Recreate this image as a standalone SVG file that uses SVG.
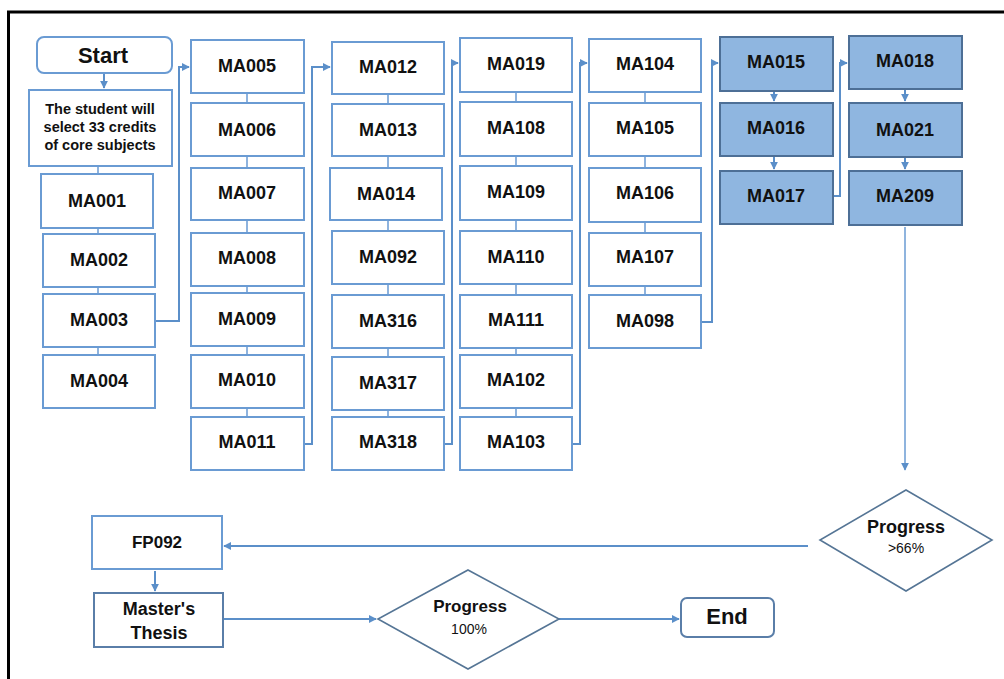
<svg xmlns="http://www.w3.org/2000/svg" width="1004" height="679" viewBox="0 0 1004 679">
<defs>
<marker id="ahs" viewBox="0 0 10 10" refX="9" refY="5" markerWidth="8" markerHeight="8" orient="auto" markerUnits="userSpaceOnUse">
<path d="M0,0 L10,5 L0,10 z" fill="#5b8fc9"/>
</marker>
</defs>
<style>
.b{fill:#fff;stroke:#6a9bd3;stroke-width:2}
.f{fill:#8fb6e0;stroke:#4d6f96;stroke-width:2}
.d{fill:#fff;stroke:#557595;stroke-width:1.6}
.t{font-family:"Liberation Sans",Arial,sans-serif;font-weight:bold;font-size:18px;fill:#111;text-anchor:middle}
.s{font-family:"Liberation Sans",Arial,sans-serif;font-size:14px;fill:#111;text-anchor:middle}
.c{fill:none;stroke:#5b8fc9;stroke-width:2}
.l{fill:none;stroke:#6a9bd3;stroke-width:1.5}
</style>
<rect x="0" y="0" width="1004" height="679" fill="#fff"/>
<path d="M8.5,679 V12 H1004" fill="none" stroke="#000" stroke-width="3"/>

<g id="connectors">
<path class="c" d="M104,73 V88" marker-end="url(#ahs)"/>
<path class="l" d="M98,166 V174 M98,228 V234 M98,287 V294 M98,347 V355"/>
<path class="c" d="M155,321 H179 V67 H189" marker-end="url(#ahs)"/>
<path class="l" d="M247,93 V103 M247,156 V168 M247,220 V233 M247,286 V293 M247,346 V355 M247,408 V417"/>
<path class="c" d="M304,444 H312 V67 H330" marker-end="url(#ahs)"/>
<path class="l" d="M388,94 V104 M388,156 V168 M388,220 V231 M388,284 V295 M388,348 V357 M388,410 V417"/>
<path class="c" d="M444,444 H452 V63 H458" marker-end="url(#ahs)"/>
<path class="l" d="M516,92 V102 M516,156 V166 M516,220 V231 M516,284 V295 M516,348 V355 M516,408 V417"/>
<path class="c" d="M572,444 H580 V63 H587" marker-end="url(#ahs)"/>
<path class="l" d="M645,92 V103 M645,156 V168 M645,222 V233 M645,286 V295"/>
<path class="c" d="M701,322 H712 V63 H718" marker-end="url(#ahs)"/>
<path class="c" d="M774,91 V101" marker-end="url(#ahs)"/>
<path class="c" d="M774,156 V169" marker-end="url(#ahs)"/>
<path class="c" d="M833,196 H840 V63 H847" marker-end="url(#ahs)"/>
<path class="c" d="M905,89 V101" marker-end="url(#ahs)"/>
<path class="c" d="M905,157 V169" marker-end="url(#ahs)"/>
<path class="l" d="M905,227 V470" marker-end="url(#ahs)"/>
<path class="c" d="M808,546 H224" marker-end="url(#ahs)"/>
<path class="c" d="M155,571 V591" marker-end="url(#ahs)"/>
<path class="c" d="M223,619 H376" marker-end="url(#ahs)"/>
<path class="c" d="M559,619 H679" marker-end="url(#ahs)"/>
</g>

<g id="start"><rect class="b" x="37" y="37" width="135" height="36" rx="7"/><text class="t" x="103" y="63" style="font-size:22px">Start</text></g>
<g id="intro"><rect class="b" x="29" y="90" width="143" height="76"/>
<text class="t" x="100" y="114" style="font-size:14.5px">The student will</text>
<text class="t" x="100" y="132" style="font-size:14.5px">select 33 credits</text>
<text class="t" x="100" y="150" style="font-size:14.5px">of core subjects</text></g>
<g id="MA001"><rect class="b" x="41" y="174" width="112" height="54"/><text class="t" x="97" y="207">MA001</text></g>
<g id="MA002"><rect class="b" x="43" y="234" width="112" height="53"/><text class="t" x="99" y="266">MA002</text></g>
<g id="MA003"><rect class="b" x="43" y="294" width="112" height="53"/><text class="t" x="99" y="326">MA003</text></g>
<g id="MA004"><rect class="b" x="43" y="355" width="112" height="53"/><text class="t" x="99" y="387">MA004</text></g>

<g id="MA005"><rect class="b" x="191" y="40" width="113" height="53"/><text class="t" x="247" y="72">MA005</text></g>
<g id="MA006"><rect class="b" x="191" y="103" width="113" height="53"/><text class="t" x="247" y="136">MA006</text></g>
<g id="MA007"><rect class="b" x="191" y="168" width="113" height="52"/><text class="t" x="247" y="199">MA007</text></g>
<g id="MA008"><rect class="b" x="191" y="233" width="113" height="53"/><text class="t" x="247" y="264">MA008</text></g>
<g id="MA009"><rect class="b" x="191" y="293" width="113" height="53"/><text class="t" x="247" y="325">MA009</text></g>
<g id="MA010"><rect class="b" x="191" y="355" width="113" height="53"/><text class="t" x="247" y="386">MA010</text></g>
<g id="MA011"><rect class="b" x="191" y="417" width="113" height="53"/><text class="t" x="247" y="448">MA011</text></g>

<g id="MA012"><rect class="b" x="332" y="42" width="112" height="52"/><text class="t" x="388" y="73">MA012</text></g>
<g id="MA013"><rect class="b" x="332" y="104" width="112" height="52"/><text class="t" x="388" y="136">MA013</text></g>
<g id="MA014"><rect class="b" x="330" y="168" width="112" height="52"/><text class="t" x="386" y="200">MA014</text></g>
<g id="MA092"><rect class="b" x="332" y="231" width="112" height="53"/><text class="t" x="388" y="263">MA092</text></g>
<g id="MA316"><rect class="b" x="332" y="295" width="112" height="53"/><text class="t" x="388" y="327">MA316</text></g>
<g id="MA317"><rect class="b" x="332" y="357" width="112" height="53"/><text class="t" x="388" y="389">MA317</text></g>
<g id="MA318"><rect class="b" x="332" y="417" width="112" height="53"/><text class="t" x="388" y="448">MA318</text></g>

<g id="MA019"><rect class="b" x="460" y="38" width="112" height="54"/><text class="t" x="516" y="70">MA019</text></g>
<g id="MA108"><rect class="b" x="460" y="102" width="112" height="54"/><text class="t" x="516" y="134">MA108</text></g>
<g id="MA109"><rect class="b" x="460" y="166" width="112" height="54"/><text class="t" x="516" y="198">MA109</text></g>
<g id="MA110"><rect class="b" x="460" y="231" width="112" height="53"/><text class="t" x="516" y="263">MA110</text></g>
<g id="MA111"><rect class="b" x="460" y="295" width="112" height="53"/><text class="t" x="516" y="326">MA111</text></g>
<g id="MA102"><rect class="b" x="460" y="355" width="112" height="53"/><text class="t" x="516" y="386">MA102</text></g>
<g id="MA103"><rect class="b" x="460" y="417" width="112" height="53"/><text class="t" x="516" y="448">MA103</text></g>

<g id="MA104"><rect class="b" x="589" y="39" width="112" height="53"/><text class="t" x="645" y="70">MA104</text></g>
<g id="MA105"><rect class="b" x="589" y="103" width="112" height="53"/><text class="t" x="645" y="134">MA105</text></g>
<g id="MA106"><rect class="b" x="589" y="168" width="112" height="54"/><text class="t" x="645" y="199">MA106</text></g>
<g id="MA107"><rect class="b" x="589" y="233" width="112" height="53"/><text class="t" x="645" y="263">MA107</text></g>
<g id="MA098"><rect class="b" x="589" y="295" width="112" height="53"/><text class="t" x="645" y="327">MA098</text></g>

<g id="MA015"><rect class="f" x="720" y="37" width="113" height="54"/><text class="t" x="776" y="68">MA015</text></g>
<g id="MA016"><rect class="f" x="720" y="103" width="113" height="53"/><text class="t" x="776" y="134">MA016</text></g>
<g id="MA017"><rect class="f" x="720" y="171" width="113" height="53"/><text class="t" x="776" y="202">MA017</text></g>

<g id="MA018"><rect class="f" x="849" y="36" width="113" height="53"/><text class="t" x="905" y="67">MA018</text></g>
<g id="MA021"><rect class="f" x="849" y="103" width="113" height="54"/><text class="t" x="905" y="136">MA021</text></g>
<g id="MA209"><rect class="f" x="849" y="171" width="113" height="54"/><text class="t" x="905" y="202">MA209</text></g>

<g id="progress66"><path class="d" d="M906,490 L992,540 L906,591 L820,540 z"/>
<text class="t" x="906" y="533">Progress</text><text class="s" x="906" y="553">&gt;66%</text></g>
<g id="FP092"><rect class="b" x="92" y="516" width="130" height="53"/><text class="t" x="157" y="548" style="font-size:17px">FP092</text></g>
<g id="thesis"><rect class="b" x="94" y="593" width="129" height="54" style="stroke:#5a7ea8"/>
<text class="t" x="159" y="615">Master's</text><text class="t" x="159" y="639">Thesis</text></g>
<g id="progress100"><path class="d" d="M468,570 L559,619 L468,669 L378,619 z"/>
<text class="t" x="470" y="612" style="font-size:17px">Progress</text><text class="s" x="469" y="634">100%</text></g>
<g id="end"><rect class="b" x="681" y="598" width="93" height="39" rx="6" style="stroke:#5a7ea8"/><text class="t" x="727" y="624" style="font-size:22px">End</text></g>
</svg>
